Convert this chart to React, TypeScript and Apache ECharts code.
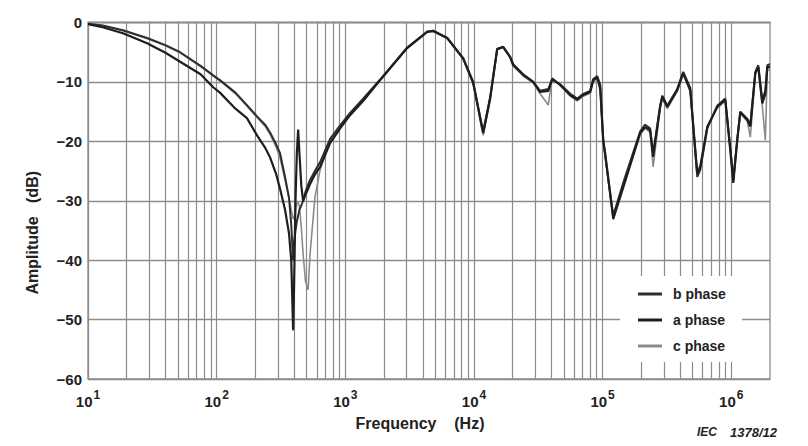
import React, { useEffect, useRef } from "react";
import * as echarts from "echarts";

// Frequency (Hz) sample points shared by the three phases
const FREQ = [
  10, 13, 18.7, 28.8, 40, 52, 75, 94, 106, 140, 172, 206, 240, 260, 290, 311, 340, 365, 380, 393,
  400, 410, 420, 430, 440, 455, 470, 490, 514, 532, 580, 637, 762, 912, 1089, 1375, 1866, 3027, 4328, 4817,
  6194, 8247, 9854, 11580, 11800, 13380, 15150, 16860, 19100, 20200, 24100, 28900, 32700, 37800, 40600, 46800, 56000, 63500, 70700, 80100,
  84500, 90800, 95800, 101000, 104700, 120900, 144500, 196000, 214000, 234000, 247000, 280000, 291000, 318000, 380000, 423000, 480000, 544000, 574000, 651000,
  778000, 898000, 982000, 1037000, 1114000, 1175000, 1332000, 1406000, 1538000, 1622000, 1742000, 1840000, 1906000, 2000000,
];

// Amplitude (dB)
const PHASE_A = [
  -0.3, -0.8, -1.8, -3.5, -5.1, -6.6, -8.7, -10.9, -11.8, -14.5, -16.1, -19.0, -21.2, -22.7, -25.5, -28.0, -31.5, -35.5, -40.0, -51.8,
  -44.0, -30.0, -22.0, -18.0, -22.0, -27.5, -30.0, -29.0, -28.0, -27.2, -25.6, -24.3, -20.3, -17.8, -15.6, -13.2, -9.7, -4.3, -1.6, -1.4,
  -2.6, -6.0, -10.0, -17.8, -18.6, -12.7, -4.5, -4.1, -5.8, -7.2, -8.8, -10.0, -11.7, -11.5, -9.5, -10.5, -12.2, -13.0, -12.2, -11.7,
  -9.7, -9.3, -11.0, -19.8, -22.0, -33.0, -27.7, -18.6, -17.6, -18.1, -22.6, -14.2, -12.5, -14.2, -11.4, -8.5, -11.4, -25.4, -24.3, -17.6,
  -14.2, -13.0, -21.5, -27.0, -19.8, -15.1, -16.4, -17.5, -8.5, -7.5, -13.6, -12.0, -7.5, -7.5,
];
const PHASE_B = [
  -0.2, -0.5, -1.3, -2.6, -3.8, -5.0, -7.3, -8.9, -9.7, -11.8, -13.9, -15.8, -17.3, -18.5, -20.5, -22.0, -26.0, -29.5, -34.0, -40.0,
  -37.0, -35.0, -33.5, -32.5, -31.5, -30.8, -30.0, -28.5, -27.3, -26.5, -25.0, -23.5, -19.6, -17.3, -15.2, -12.8, -9.6, -4.2, -1.5, -1.4,
  -2.6, -6.1, -10.2, -17.5, -18.3, -12.5, -4.4, -4.1, -5.8, -7.0, -8.7, -10.0, -11.5, -11.2, -9.6, -10.4, -12.0, -12.8, -12.0, -11.5,
  -9.5, -9.0, -10.5, -19.5, -22.5, -32.5, -27.0, -18.3, -17.2, -17.8, -22.0, -14.0, -12.3, -14.0, -11.2, -8.3, -11.0, -26.0, -24.8, -17.8,
  -14.0, -12.8, -21.0, -26.5, -19.5, -15.0, -16.2, -17.2, -8.3, -7.2, -13.0, -11.5, -7.2, -7.0,
];
const PHASE_C = [
  -0.2, -0.5, -1.4, -2.7, -3.9, -5.1, -7.4, -9.0, -9.8, -12.0, -14.1, -16.0, -17.6, -18.8, -21.0, -22.8, -26.5, -29.5, -31.5, -33.0,
  -33.0, -31.5, -30.5, -30.3, -31.0, -34.5, -39.0, -43.5, -45.0, -39.0, -29.5, -24.8, -20.0, -17.6, -15.4, -13.0, -9.7, -4.3, -1.6, -1.5,
  -2.7, -6.2, -10.3, -18.2, -19.0, -13.0, -4.6, -4.2, -5.9, -7.3, -9.0, -10.2, -12.0, -13.9, -9.3, -10.6, -12.4, -13.2, -12.4, -11.9,
  -10.0, -9.5, -11.5, -20.0, -22.5, -33.2, -28.0, -18.8, -17.8, -18.5, -24.3, -14.5, -12.8, -14.5, -11.6, -8.7, -11.6, -25.0, -24.0, -17.4,
  -14.4, -13.2, -21.0, -26.0, -19.6, -15.3, -16.6, -19.3, -8.7, -7.6, -14.0, -19.8, -8.0, -8.0,
];

const SERIES_NAMES = ["b phase", "a phase", "c phase"];
const X_MIN = 10;
const X_MAX = 2000000;
const Y_TICKS = [0, -10, -20, -30, -40, -50, -60];

const FONT = "'Liberation Sans', Arial, Helvetica, sans-serif";
const GRID_COLOR = "#8c8c8c";
const COLOR_A = "#1e1e1e";
const COLOR_B = "#2e2e2e";
const COLOR_C = "#8a8a8a";

function gridFreqs(): number[] {
  const out: number[] = [];
  for (let d = 10; d <= 1000000; d *= 10) {
    for (let m = 1; m <= 9; m++) {
      const v = d * m;
      if (v > X_MIN && v < X_MAX) out.push(v);
    }
  }
  return out;
}

function pairs(vals: number[]) {
  return FREQ.map((f, i) => [f, vals[i]]);
}

export default function App() {
  const ref = useRef<HTMLDivElement>(null);
  useEffect(() => {
    if (!ref.current) return;
    const chart = echarts.init(ref.current, null, { renderer: "svg" });
    const option: any = {
      animation: false,
      backgroundColor: "#ffffff",
      textStyle: { fontFamily: FONT },
      grid: {
        left: 88,
        right: 38,
        top: 22.5,
        bottom: 67,
        show: true,
        borderColor: GRID_COLOR,
        borderWidth: 1.3,
      },
      legend: {
        data: SERIES_NAMES.map((n) => ({ name: n, icon: "rect" })),
        orient: "vertical",
        left: 620,
        top: 276,
        padding: [10, 16, 8, 18],
        itemWidth: 24,
        itemHeight: 3,
        itemGap: 10,
        backgroundColor: "#ffffff",
        textStyle: {
          fontFamily: FONT,
          fontSize: 14,
          fontWeight: "bold",
          color: "#222",
          lineHeight: 16,
          padding: [0, 0, 0, 6],
        },
      },
      xAxis: {
        type: "log",
        logBase: 10,
        min: X_MIN,
        max: X_MAX,
        splitNumber: 6,
        name: "Frequency    (Hz)",
        nameLocation: "middle",
        nameGap: 36,
        nameTextStyle: {
          fontFamily: FONT,
          fontSize: 16,
          fontWeight: "bold",
          color: "#222",
          padding: [0, 18, 0, 0],
        },
        axisLine: { show: true, lineStyle: { color: GRID_COLOR, width: 1.3 } },
        axisTick: { show: false },
        splitLine: { show: false },
        axisLabel: {
          showMaxLabel: false,
          margin: 10,
          formatter: (v: number) => {
            const l = Math.log10(v);
            const e = Math.round(l);
            if (Math.abs(l - e) > 1e-6) return "";
            return `{b|10}{s|${e}}`;
          },
          rich: {
            b: { fontFamily: FONT, fontSize: 15, fontWeight: "bold", color: "#222", verticalAlign: "bottom" },
            s: {
              fontFamily: FONT,
              fontSize: 12,
              fontWeight: "bold",
              color: "#222",
              verticalAlign: "bottom",
              padding: [0, 0, 8, 1],
            },
          },
        },
      },
      yAxis: {
        type: "value",
        min: -60,
        max: 0,
        interval: 10,
        name: "Amplitude   (dB)",
        nameLocation: "middle",
        nameGap: 48,
        nameTextStyle: {
          fontFamily: FONT,
          fontSize: 16,
          fontWeight: "bold",
          color: "#222",
          padding: [0, 64, 0, 0],
        },
        axisLine: { show: true, lineStyle: { color: GRID_COLOR, width: 1.3 } },
        axisTick: { show: false },
        axisLabel: {
          margin: 6,
          fontFamily: FONT,
          fontSize: 15,
          fontWeight: "bold",
          color: "#222",
          formatter: (v: number) => (Y_TICKS.includes(v) ? String(v).replace("-", "\u2212") : ""),
        },
        splitLine: { show: true, lineStyle: { color: GRID_COLOR, width: 1.3 } },
      },
      series: [
        {
          name: "c phase",
          type: "line",
          data: pairs(PHASE_C),
          showSymbol: false,
          symbol: "none",
          lineStyle: { color: COLOR_C, width: 1.6 },
          itemStyle: { color: COLOR_C },
          z: 3,
          markLine: {
            silent: true,
            symbol: ["none", "none"],
            label: { show: false },
            lineStyle: { color: GRID_COLOR, width: 1.2, type: "solid" },
            emphasis: { disabled: true },
            data: gridFreqs().map((f) => ({ xAxis: f })),
            z: 1,
          },
        },
        {
          name: "b phase",
          type: "line",
          data: pairs(PHASE_B),
          showSymbol: false,
          symbol: "none",
          lineStyle: { color: COLOR_B, width: 2 },
          itemStyle: { color: COLOR_B },
          z: 4,
        },
        {
          name: "a phase",
          type: "line",
          data: pairs(PHASE_A),
          showSymbol: false,
          symbol: "none",
          lineStyle: { color: COLOR_A, width: 2.2 },
          itemStyle: { color: COLOR_A },
          z: 5,
        },
      ],
      graphic: [
        {
          type: "text",
          left: 697,
          top: 426,
          style: {
            text: "IEC",
            fontFamily: FONT,
            fontSize: 12,
            fontStyle: "italic",
            fontWeight: "bold",
            fill: "#222",
          },
        },
        {
          type: "text",
          left: 730,
          top: 426,
          style: {
            text: "1378/12",
            fontFamily: FONT,
            fontSize: 13,
            fontStyle: "italic",
            fontWeight: "bold",
            fill: "#222",
          },
        },
      ],
    };
    chart.setOption(option);
    return () => chart.dispose();
  }, []);
  return (
    <div
      ref={ref}
      style={{ position: "fixed", left: 0, top: 0, width: 808, height: 446, background: "#fff" }}
    />
  );
}
